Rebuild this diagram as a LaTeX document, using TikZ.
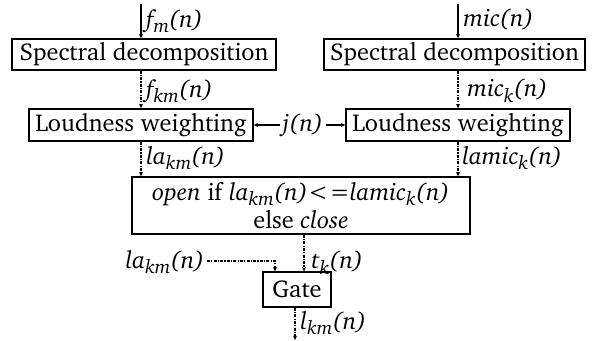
\documentclass[tikz,border=0pt]{standalone}
\usepackage[T1]{fontenc}
\usepackage{charter}
\usetikzlibrary{arrows.meta}
\newcommand\lab[2]{\textit{#1\raisebox{-0.45ex}{\fontsize{9.6}{10}\selectfont #2}(n)}}
\begin{document}
\begin{tikzpicture}[x=0.5pt,y=-0.5pt,
  font=\fontsize{12.2}{14.3}\selectfont,
  box/.style={draw,line width=0.7pt,inner sep=0pt,minimum height=#1*0.5pt},
  lbl/.style={anchor=west,inner sep=0pt},
  arr/.style={-{Stealth[length=2.2pt,width=2pt]},line width=0.55pt},
  dd/.style={arr,dash pattern=on 1.5pt off 0.6pt on 0.6pt off 0.6pt}]
\useasboundingbox (0,0) rectangle (592,341);
\node[box=31,minimum width=132pt] (sd1) at (144,54.5) {Spectral decomposition};
\node[box=31,minimum width=130.5pt] (sd2) at (454.5,54.5) {Spectral decomposition};
\node[box=32,minimum width=112pt] (lw1) at (141,125) {Loudness weighting};
\node[box=32,minimum width=112pt] (lw2) at (458,125) {Loudness weighting};
\node[box=57,minimum width=169pt,align=center] (cond) at (301,205.5)
  {\textit{open} if \lab{la}{km}{<}\kern0.6pt{=}\lab{lamic}{k}\\ else \textit{close}};
\node[box=35,minimum width=34pt] (gate) at (297,289.5) {Gate};
\node[inner sep=1pt] (j) at (303,125) {\textit{j(n)}};
\coordinate (inL) at (141,4);
\coordinate (inR) at (458,4);
\coordinate (tk) at (304,0);
\coordinate (gl) at (275,0);
\coordinate (out) at (295,340);
\node[lbl] (fm) at (146,21) {\lab{f}{m}};
\node[lbl] (mic) at (463,20) {\textit{mic(n)}};
\node[lbl] (fkm) at (146,91) {\lab{f}{km}};
\node[lbl] (mick) at (467,91) {\lab{mic}{k}};
\node[lbl] (la1) at (146,158) {\lab{la}{km}};
\node[lbl] (lamic) at (462,158) {\lab{lamic}{k}};
\node[lbl] (tkl) at (311,263) {\lab{t}{k}};
\node[lbl] (lkm) at (300,323) {\lab{l}{km}};
\node[anchor=east,inner sep=1pt] (la2) at (207,262) {\lab{la}{km}};
\draw[arr] (inL) -- (inL |- sd1.north);
\draw[arr] (inR) -- (inR |- sd2.north);
\draw[dd] (sd1.south -| inL) -- (lw1.north -| inL);
\draw[dd] (sd2.south -| inR) -- (lw2.north -| inR);
\draw[dd] (lw1.south -| inL) -- (cond.north -| inL);
\draw[dd] (lw2.south -| inR) -- (cond.north -| inR);
\draw[arr] (j) -- (lw1.east);
\draw[arr] (j) -- (lw2.west);
\draw[dd] (cond.south -| tk) -- (gate.north -| tk);
\draw[dd] (la2.east |- 0,261) -| (gate.north -| gl);
\draw[dd] (gate.south -| out) -- (out);
\end{tikzpicture}
\end{document}
